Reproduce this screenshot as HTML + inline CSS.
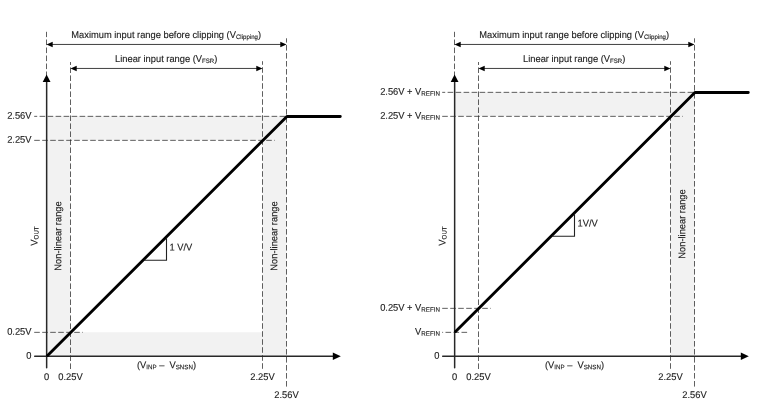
<!DOCTYPE html>
<html><head><meta charset="utf-8"><title>Input range diagram</title>
<style>
html,body{margin:0;padding:0;background:#fff;}
body{width:768px;height:418px;overflow:hidden;}
svg{display:block;}
text{font-family:"Liberation Sans",Arial,sans-serif;font-size:9.33px;fill:#202020;stroke:#202020;stroke-width:0.12px;}
</style></head>
<body>
<svg width="768" height="418" viewBox="0 0 768 418">
<rect width="768" height="418" fill="#fff"/>
<path d="M46.5 116.35H286.5V356.3H262.5V140.35H70.5V332.35H262.5V356.3H46.5z" fill="#f2f2f2"/>
<path d="M46.5 77.1V31.8" stroke="#222" stroke-width="0.72" stroke-dasharray="5.6 2.4" fill="none"/>
<path d="M70.5 369V62" stroke="#222" stroke-width="0.72" stroke-dasharray="5.6 2.4" fill="none"/>
<path d="M262.5 368.8V61.2" stroke="#222" stroke-width="0.72" stroke-dasharray="5.6 2.4" fill="none"/>
<path d="M286.5 386.6V38.3" stroke="#222" stroke-width="0.72" stroke-dasharray="5.6 2.4" fill="none"/>
<path d="M285.2 116.35H34.2" stroke="#222" stroke-width="0.72" stroke-dasharray="5.6 2.4" fill="none"/>
<path d="M34.2 140.35H274.8" stroke="#222" stroke-width="0.72" stroke-dasharray="5.6 2.4" fill="none"/>
<path d="M34.2 332.35H82.8" stroke="#222" stroke-width="0.72" stroke-dasharray="5.6 2.4" fill="none"/>
<path d="M46.65 80V367.8" stroke="#282828" stroke-width="1.5" fill="none" stroke-linecap="round"/>
<path d="M34.7 356.3H335" stroke="#282828" stroke-width="1.5" fill="none" stroke-linecap="round"/>
<path d="M46.6 74.6l3.9 7.4h-7.8z" fill="#000"/>
<path d="M340.8 356.3l-8 -3.7v7.4z" fill="#000"/>
<path d="M50.5 44.45H282.5" stroke="#1e1e1e" stroke-width="0.85" fill="none"/>
<path d="M46.5 44.45l6.2 -2.8v5.6z M286.5 44.45l-6.2 -2.8v5.6z" fill="#000"/>
<path d="M74.5 68.45H258.5" stroke="#1e1e1e" stroke-width="0.85" fill="none"/>
<path d="M70.5 68.45l6.2 -2.8v5.6z M262.5 68.45l-6.2 -2.8v5.6z" fill="#000"/>
<path d="M47.6 355.55L286.9 116.44999999999999H340.3" stroke="#000" stroke-width="2.85" fill="none" stroke-linejoin="round" stroke-linecap="round"/>
<path d="M144.0 260.3H166.5V237.8" stroke="#222" stroke-width="1.1" fill="none"/>
<path d="M454.5 92.35H694.5V356.3H670.5V116.35H454.5z" fill="#f2f2f2"/>
<path d="M454.5 77.1V31.8" stroke="#222" stroke-width="0.72" stroke-dasharray="5.6 2.4" fill="none"/>
<path d="M478.5 369V62" stroke="#222" stroke-width="0.72" stroke-dasharray="5.6 2.4" fill="none"/>
<path d="M670.5 368.8V61.2" stroke="#222" stroke-width="0.72" stroke-dasharray="5.6 2.4" fill="none"/>
<path d="M694.5 386.6V38.3" stroke="#222" stroke-width="0.72" stroke-dasharray="5.6 2.4" fill="none"/>
<path d="M693.2 92.35H442.2" stroke="#222" stroke-width="0.72" stroke-dasharray="5.6 2.4" fill="none"/>
<path d="M442.2 116.35H682.8" stroke="#222" stroke-width="0.72" stroke-dasharray="5.6 2.4" fill="none"/>
<path d="M442.2 308.35H490.8" stroke="#222" stroke-width="0.72" stroke-dasharray="5.6 2.4" fill="none"/>
<path d="M467.1 332.35H442.2" stroke="#222" stroke-width="0.72" stroke-dasharray="5.6 2.4" fill="none"/>
<path d="M454.65 80V367.8" stroke="#282828" stroke-width="1.5" fill="none" stroke-linecap="round"/>
<path d="M442.7 356.3H743" stroke="#282828" stroke-width="1.5" fill="none" stroke-linecap="round"/>
<path d="M454.6 74.6l3.9 7.4h-7.8z" fill="#000"/>
<path d="M748.8 356.3l-8 -3.7v7.4z" fill="#000"/>
<path d="M458.5 44.45H690.5" stroke="#1e1e1e" stroke-width="0.85" fill="none"/>
<path d="M454.5 44.45l6.2 -2.8v5.6z M694.5 44.45l-6.2 -2.8v5.6z" fill="#000"/>
<path d="M482.5 68.45H666.5" stroke="#1e1e1e" stroke-width="0.85" fill="none"/>
<path d="M478.5 68.45l6.2 -2.8v5.6z M670.5 68.45l-6.2 -2.8v5.6z" fill="#000"/>
<path d="M455.6 331.6L694.9 92.44999999999999H748.3" stroke="#000" stroke-width="2.85" fill="none" stroke-linejoin="round" stroke-linecap="round"/>
<path d="M552.0 236.3H574.5V213.8" stroke="#222" stroke-width="1.1" fill="none"/>
<g>
<text transform="translate(166.2 38.0) rotate(0.03) scale(1 1.04)" text-anchor="middle">Maximum input range before clipping (V<tspan font-size="6.1" baseline-shift="-1.3">Clipping</tspan>)</text>
<text transform="translate(166.2 62.0) rotate(0.03) scale(1 1.04)" text-anchor="middle">Linear input range (V<tspan font-size="6.1" baseline-shift="-1.3">FSR</tspan>)</text>
<text transform="translate(166.5 368.3) rotate(0.03) scale(1 1.04)" text-anchor="middle">(V<tspan font-size="6.2" baseline-shift="-1.3">INP</tspan> &#8211;&#160;&#160;V<tspan font-size="6.2" baseline-shift="-1.3">SNSN</tspan>)</text>
<text transform="translate(46.5 380) rotate(0.03) scale(1 1.04)" text-anchor="middle">0</text>
<text transform="translate(70.5 380) rotate(0.03) scale(1 1.04)" text-anchor="middle">0.25V</text>
<text transform="translate(262.5 380) rotate(0.03) scale(1 1.04)" text-anchor="middle">2.25V</text>
<text transform="translate(286.5 398) rotate(0.03) scale(1 1.04)" text-anchor="middle">2.56V</text>
<text transform="translate(31.5 358.8) rotate(0.03) scale(1 1.04)" text-anchor="end">0</text>
<text transform="translate(574.2 38.0) rotate(0.03) scale(1 1.04)" text-anchor="middle">Maximum input range before clipping (V<tspan font-size="6.1" baseline-shift="-1.3">Clipping</tspan>)</text>
<text transform="translate(574.2 62.0) rotate(0.03) scale(1 1.04)" text-anchor="middle">Linear input range (V<tspan font-size="6.1" baseline-shift="-1.3">FSR</tspan>)</text>
<text transform="translate(574.5 368.3) rotate(0.03) scale(1 1.04)" text-anchor="middle">(V<tspan font-size="6.2" baseline-shift="-1.3">INP</tspan> &#8211;&#160;&#160;V<tspan font-size="6.2" baseline-shift="-1.3">SNSN</tspan>)</text>
<text transform="translate(454.5 380) rotate(0.03) scale(1 1.04)" text-anchor="middle">0</text>
<text transform="translate(478.5 380) rotate(0.03) scale(1 1.04)" text-anchor="middle">0.25V</text>
<text transform="translate(670.5 380) rotate(0.03) scale(1 1.04)" text-anchor="middle">2.25V</text>
<text transform="translate(694.5 398) rotate(0.03) scale(1 1.04)" text-anchor="middle">2.56V</text>
<text transform="translate(439.5 358.8) rotate(0.03) scale(1 1.04)" text-anchor="end">0</text>
<text transform="translate(31.5 118.8) rotate(0.03) scale(1 1.04)" text-anchor="end">2.56V</text>
<text transform="translate(31.5 142.8) rotate(0.03) scale(1 1.04)" text-anchor="end">2.25V</text>
<text transform="translate(31.5 334.8) rotate(0.03) scale(1 1.04)" text-anchor="end">0.25V</text>
<text transform="translate(169.5 250.5) rotate(0.03) scale(1 1.04)" text-anchor="start">1 V/V</text>
<text transform="translate(37.5 236) rotate(-90.03) scale(1 1.04)" text-anchor="middle">V<tspan font-size="6.2" baseline-shift="-1.2">OUT</tspan></text>
<text transform="translate(61.3 236) rotate(-90.03) scale(1 1.04)" text-anchor="middle">Non-linear range</text>
<text transform="translate(277.3 236) rotate(-90.03) scale(1 1.04)" text-anchor="middle">Non-linear range</text>
<text transform="translate(439.9 94.8) rotate(0.03) scale(1 1.04)" text-anchor="end">2.56V + V<tspan font-size="6.2" baseline-shift="-1.2">REFIN</tspan></text>
<text transform="translate(439.9 118.8) rotate(0.03) scale(1 1.04)" text-anchor="end">2.25V + V<tspan font-size="6.2" baseline-shift="-1.2">REFIN</tspan></text>
<text transform="translate(439.9 310.8) rotate(0.03) scale(1 1.04)" text-anchor="end">0.25V + V<tspan font-size="6.2" baseline-shift="-1.2">REFIN</tspan></text>
<text transform="translate(439.9 334.8) rotate(0.03) scale(1 1.04)" text-anchor="end">V<tspan font-size="6.2" baseline-shift="-1.2">REFIN</tspan></text>
<text transform="translate(577.5 226.5) rotate(0.03) scale(1 1.04)" text-anchor="start">1V/V</text>
<text transform="translate(445.5 236) rotate(-90.03) scale(1 1.04)" text-anchor="middle">V<tspan font-size="6.2" baseline-shift="-1.2">OUT</tspan></text>
<text transform="translate(685.3 224) rotate(-90.03) scale(1 1.04)" text-anchor="middle">Non-linear range</text>
</g>
</svg>
</body></html>
